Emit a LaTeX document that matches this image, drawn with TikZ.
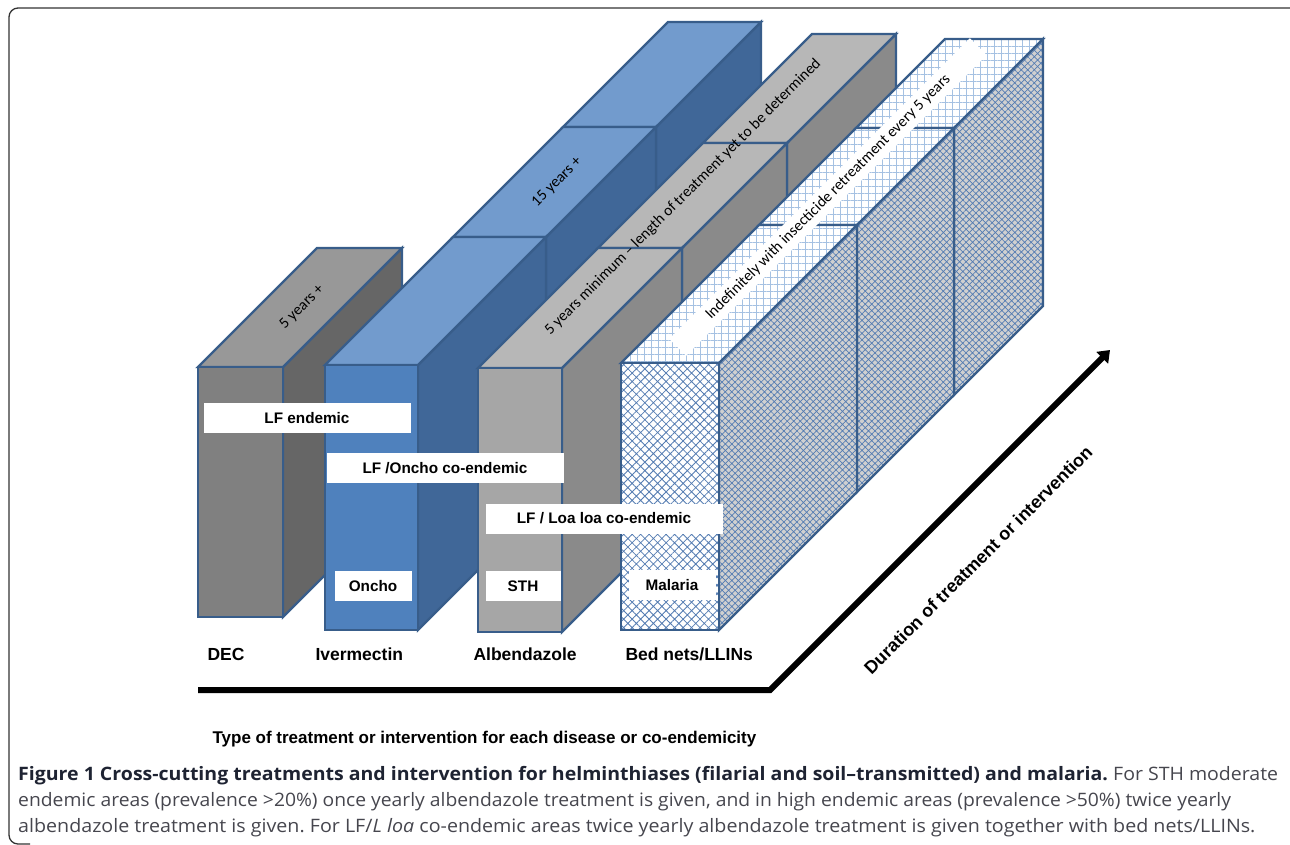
\documentclass[tikz,border=0pt]{standalone}
\usepackage{fontspec}
\setmainfont{Liberation Sans}
\newfontfamily\calfont{Carlito}
\newfontfamily\capfont{Open Sans}
\usetikzlibrary{arrows.meta,patterns.meta}
\frenchspacing

\definecolor{edgeblue}{RGB}{56,93,138}
\definecolor{decfront}{RGB}{128,128,128}
\definecolor{dectop}{RGB}{152,152,152}
\definecolor{decside}{RGB}{102,102,102}
\definecolor{ivefront}{RGB}{79,129,189}
\definecolor{ivetop}{RGB}{114,155,205}
\definecolor{iveside}{RGB}{64,103,152}
\definecolor{albfront}{RGB}{166,166,166}
\definecolor{albtop}{RGB}{183,183,183}
\definecolor{albside}{RGB}{138,138,138}
\definecolor{netside}{RGB}{208,208,208}
\definecolor{nethatch}{RGB}{84,124,178}
\definecolor{netgrid}{RGB}{165,193,226}
\definecolor{capbold}{RGB}{30,35,50}
\definecolor{captext}{RGB}{70,70,78}

% one block: front top-left (#1,#2), width #3, height #4, depth #5, faces #6
\newcommand\slab[6]{%
  \draw[#6 side] (#1+#3,#2) -- ++(#5,-#5) -- ++(0,#4) -- ++(-#5,#5) -- cycle;
  \draw[#6 top] (#1,#2) -- ++(#5,-#5) -- ++(#3,0) -- ++(-#5,#5) -- cycle;
  \draw[#6 front] (#1,#2) rectangle ++(#3,#4);
}

\begin{document}
\begin{tikzpicture}[x=1pt, y=-1pt,
    face/.style={draw=edgeblue, line width=2.4},
    dec front/.style={face, fill=decfront},
    dec top/.style={face, fill=dectop},
    dec side/.style={face, fill=decside},
    ive front/.style={face, fill=ivefront},
    ive top/.style={face, fill=ivetop},
    ive side/.style={face, fill=iveside},
    alb front/.style={face, fill=albfront},
    alb top/.style={face, fill=albtop},
    alb side/.style={face, fill=albside},
    net front/.style={face, preaction={fill=white}, pattern={Hatch[angle=45, distance=6pt, line width=0.8pt]}, pattern color=nethatch},
    net top/.style={face, preaction={fill=white}, pattern={Hatch[angle=0, distance=7pt, line width=0.9pt]}, pattern color=netgrid},
    net side/.style={face, preaction={fill=netside}, pattern={Hatch[angle=45, distance=4.6pt, line width=0.7pt]}, pattern color=nethatch},
    tag/.style={fill=white, inner sep=0, minimum height=30, font=\bfseries\fontsize{15.3}{18}\selectfont},
    yeartag/.style={rotate=45, font=\calfont\fontsize{15.5}{18}\selectfont},
    drug/.style={anchor=base west, font=\bfseries\fontsize{17.5}{20}\selectfont},
    axis/.style={line width=6, -{Triangle[length=11pt, width=16pt]}},
    capline/.style={anchor=base west, inner sep=0, text=captext, font=\capfont\fontsize{18.5}{26}\selectfont}]
  \useasboundingbox (0,0) rectangle (1290,844);
  \draw[line width=1.3, draw=black!80, rounded corners=9] (30,844) -- (9,844) -- (9,8) -- (1290,8);

  % DEC
  \slab{198}{367}{85}{250}{119}{dec}
  % Ivermectin
  \slab{563}{127}{93}{265}{105}{ive}
  \slab{453}{237}{93}{265}{110}{ive}
  \slab{325}{365}{93}{265}{128}{ive}
  % Albendazole
  \slab{703}{143}{84}{264}{109}{alb}
  \slab{598}{248}{84}{264}{105}{alb}
  \slab{478}{368}{84}{264}{120}{alb}
  % Bed nets
  \slab{856}{128}{98}{267}{89}{net}
  \slab{759}{225}{98}{267}{97}{net}
  \slab{621}{363}{98}{267}{138}{net}

  \node[yeartag] (dec years) at (302,307) {5 years +};
  \node[yeartag] (ive years) at (557,182) {15 years +};
  \node[yeartag] (alb years) at (683,197) {5 years minimum – length of treatment yet to be determined};
  \node[yeartag, fill=white, minimum width=425, minimum height=24] (net years) at (828,197) {Indefinitely with insecticide retreatment every 5 years};

  \node[tag, minimum width=207] (lf) at (307,418) {LF endemic};
  \node[tag, minimum width=237] (lf oncho) at (445,468) {LF /Oncho co-endemic};
  \node[tag, minimum width=237] (lf loa) at (604,518.5) {LF / Loa loa co-endemic};
  \node[tag, minimum width=77] (oncho) at (373,586) {Oncho};
  \node[tag, minimum width=75] (sth) at (523,586) {STH};
  \node[tag, minimum width=87] (malaria) at (672,585) {Malaria};

  \node[drug] (dec) at (204,660) {DEC};
  \node[drug] (ivermectin) at (312,660) {Ivermectin};
  \node[drug] (albendazole) at (470,660) {Albendazole};
  \node[drug] (bednets) at (622,660) {Bed nets/LLINs};

  \coordinate (axis start) at (198,690);
  \coordinate (axis bend) at (770,690);
  \coordinate (axis end) at (1110,350);
  \draw[axis] (axis start) -- (axis bend) -- (axis end);
  \node[rotate=45, font=\bfseries\fontsize{18}{20}\selectfont] (duration) at (978,560) {Duration of treatment or intervention};
  \node[anchor=base west, font=\bfseries\fontsize{17}{20}\selectfont] (type) at (209,743) {Type of treatment or intervention for each disease or co-endemicity};

  \node[capline] (caption a) at (18,780) {\scalebox{1.055}[1]{{\bfseries\color{capbold}Figure 1 Cross-cutting treatments and intervention for helminthiases (filarial and soil–transmitted) and malaria.} For STH moderate}};
  \node[capline] (caption b) at (18,806) {\scalebox{1.043}[1]{endemic areas (prevalence >20\%) once yearly albendazole treatment is given, and in high endemic areas (prevalence >50\%) twice yearly}};
  \node[capline] (caption c) at (18,832) {\scalebox{1.063}[1]{albendazole treatment is given. For LF/\textit{L loa} co-endemic areas twice yearly albendazole treatment is given together with bed nets/LLINs.}};
\end{tikzpicture}
\end{document}
